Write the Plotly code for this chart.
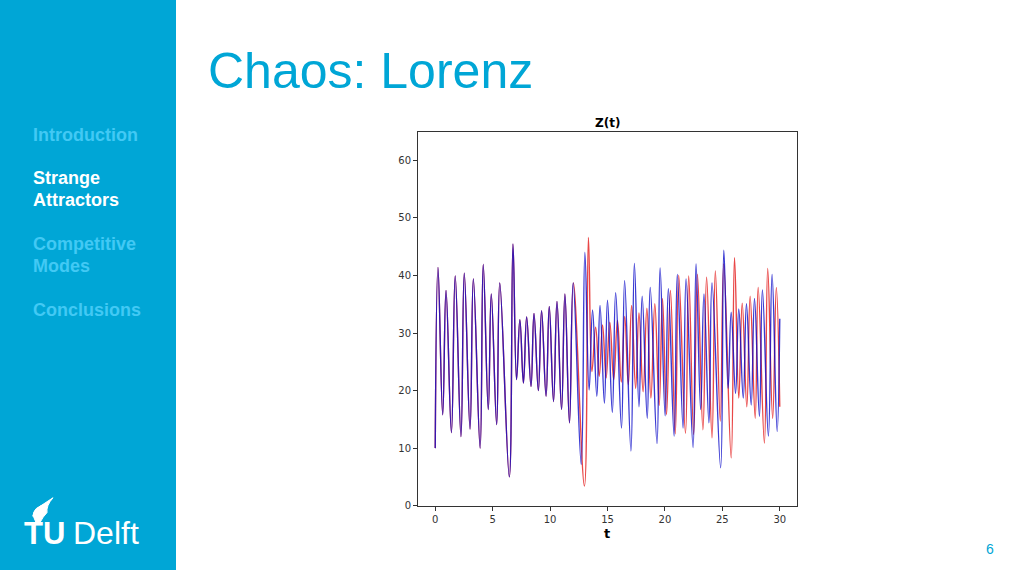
import plotly.graph_objects as go

# ---- data (turning points of z(t)) ----
t_blue = [0.0, 0.24, 0.65, 0.94, 1.41, 1.74, 2.24, 2.53, 3.03, 3.32, 3.91, 4.18, 4.62, 4.88,
          5.35, 5.62, 6.45, 6.77, 7.08, 7.37, 7.68, 7.96, 8.34, 8.60, 8.98, 9.26, 9.65, 9.93,
          10.30, 10.60, 11.00, 11.29, 11.69, 12.01, 12.71, 13.03, 13.40, 13.70, 14.07, 14.35,
          14.73, 15.00, 15.42, 15.71, 16.22, 16.49, 17.04, 17.34, 17.74, 18.02, 18.46, 18.72,
          19.31, 19.58, 20.02, 20.30, 20.80, 21.08, 21.58, 21.84, 22.45, 22.71, 23.11, 23.40,
          23.83, 24.10, 24.85, 25.13, 25.50, 25.77, 26.15, 26.43, 26.82, 27.10, 27.51, 27.80,
          28.23, 28.49, 29.01, 29.33, 29.77, 30.0]
z_blue = [10.0, 41.4, 15.8, 37.4, 12.7, 39.9, 12.0, 40.4, 13.3, 39.4, 10.0, 41.9, 16.7, 36.8,
          14.1, 38.7, 5.0, 45.5, 21.9, 32.3, 21.3, 32.8, 20.7, 33.4, 20.0, 33.9, 19.0, 34.6,
          18.1, 35.5, 16.7, 36.8, 14.4, 38.7, 7.2, 44.0, 20.1, 34.0, 19.0, 34.8,
          17.8, 35.7, 16.2, 37.0, 13.5, 39.1, 9.5, 42.1, 17.2, 36.4, 15.2, 37.9,
          10.8, 41.3, 15.6, 37.7, 12.1, 40.2, 13.5, 39.4, 10.1, 42.0, 16.7, 36.8,
          14.4, 38.7, 6.6, 44.4, 20.4, 33.6, 19.5, 34.2, 18.7, 35.1, 17.5, 36.0,
          15.5, 37.5, 12.1, 40.2, 12.9, 32.5]

t_red = [0.0, 0.24, 0.65, 0.94, 1.41, 1.74, 2.24, 2.53, 3.03, 3.32, 3.91, 4.18, 4.62, 4.88,
         5.35, 5.62, 6.45, 6.77, 7.08, 7.37, 7.68, 7.96, 8.34, 8.60, 8.98, 9.26, 9.65, 9.93,
         10.30, 10.60, 11.00, 11.29, 11.69, 12.03, 12.99, 13.34, 13.64, 13.97, 14.28, 14.57,
         14.88, 15.20, 15.54, 15.87, 16.20, 16.50, 16.81, 17.10, 17.45, 17.74, 18.10, 18.43,
         18.78, 19.12, 19.50, 19.79, 20.14, 20.48, 20.90, 21.20, 21.79, 22.07, 22.50, 22.83,
         23.31, 23.63, 24.10, 24.39, 24.82, 25.12, 25.77, 26.06, 26.43, 26.73, 27.13, 27.42,
         27.86, 28.12, 28.66, 28.95, 29.38, 29.70, 30.0]
z_red = [10.0, 41.4, 15.8, 37.4, 12.7, 39.9, 12.0, 40.4, 13.3, 39.4, 10.0, 41.9, 16.7, 36.8,
         14.1, 38.7, 5.0, 45.5, 21.9, 32.3, 21.3, 32.8, 20.7, 33.4, 20.0, 33.9, 19.0, 34.6,
         18.1, 35.5, 16.7, 36.8, 14.4, 38.7, 3.4, 46.6, 23.3, 31.0, 22.5, 31.4,
         22.2, 31.9, 21.9, 32.2, 21.5, 32.9, 21.0, 34.8, 20.4, 33.5, 19.8, 34.3,
         18.7, 35.1, 17.4, 36.0, 15.8, 37.4, 12.5, 40.0, 12.6, 39.9, 12.4, 40.2,
         13.2, 39.7, 11.8, 40.8, 14.7, 42.0, 8.3, 43.1, 18.7, 35.2, 17.2, 36.4,
         15.2, 37.9, 10.9, 41.2, 15.2, 37.9, 17.2]

x_ticks = [0, 5, 10, 15, 20, 25, 30]
y_ticks = [0, 10, 20, 30, 40, 50, 60]

W, H = 1024, 576
TUD = "#00A6D6"


def px(x):
    return x / W


def py(y):
    return 1 - y / H


fig = go.Figure()
fig.add_trace(go.Scatter(x=t_red, y=z_red, mode="lines",
                         line=dict(color="rgba(225,0,0,0.72)", width=1.4, shape="spline", smoothing=1.2),
                         showlegend=False, hoverinfo="skip"))
fig.add_trace(go.Scatter(x=t_blue, y=z_blue, mode="lines",
                         line=dict(color="rgba(10,10,200,0.8)", width=1.4, shape="spline", smoothing=1.2),
                         showlegend=False, hoverinfo="skip"))

axis_font = dict(family="DejaVu Sans", size=10, color="#333333")
fig.update_xaxes(domain=[px(418), px(797)], range=[-1.5, 31.5], tickvals=x_ticks,
                 ticks="outside", ticklen=4, tickcolor="#333333", showline=True, mirror=True,
                 linecolor="#333333", linewidth=1, showgrid=False, zeroline=False, tickfont=axis_font)
fig.update_yaxes(domain=[py(511), py(133)], range=[0, 65], tickvals=y_ticks,
                 ticks="outside", ticklen=4, tickcolor="#333333", showline=True, mirror=True,
                 linecolor="#333333", linewidth=1, showgrid=False, zeroline=False, tickfont=axis_font)

shapes = [
    dict(type="rect", xref="paper", yref="paper", x0=0, x1=px(176), y0=0, y1=1,
         fillcolor=TUD, line=dict(width=0), layer="below"),
]
# flame of the logo
flame = "M {} {} Q {} {} {} {} Q {} {} {} {} Q {} {} {} {} Q {} {} {} {} Z".format(
    px(36), py(528), px(29), py(516), px(41), py(511), px(47), py(507), px(53), py(503),
    px(46), py(511), px(47), py(518), px(43), py(522), px(40), py(528))
shapes.append(dict(type="path", xref="paper", yref="paper", path=flame,
                   fillcolor="white", line=dict(color="white", width=1)))
shapes.append(dict(type="path", xref="paper", yref="paper",
                   path="M {} {} Q {} {} {} {}".format(px(33), py(522), px(36), py(512), px(48), py(509)),
                   line=dict(color="white", width=2)))

ann = []


def text(x, y, s, size, color, family="Liberation Sans", xanchor="left", yanchor="middle", bold=False):
    ann.append(dict(x=px(x), y=py(y), xref="paper", yref="paper", text=("<b>%s</b>" % s) if bold else s,
                    showarrow=False, xanchor=xanchor, yanchor=yanchor,
                    font=dict(family=family, size=size, color=color)))


text(206, 72, "Chaos: Lorenz", 50, TUD)
inactive = "#42C9F4"
text(31, 136, "Introduction", 18, inactive, bold=True)
text(31, 180, "Strange", 18, "white", bold=True)
text(31, 202, "Attractors", 18, "white", bold=True)
text(31, 247, "Competitive", 18, inactive, bold=True)
text(31, 269, "Modes", 18, inactive, bold=True)
text(31, 313, "Conclusions", 18, inactive, bold=True)
text(22, 539, "TU", 31, "white", bold=True)
text(71, 539, "Delft", 32, "white")
text(990, 555, "6", 14, TUD, xanchor="center")
text(607, 124, "Z(t)", 12, "black", family="DejaVu Sans", xanchor="center", bold=True)
text(607, 539, "t", 13, "black", family="DejaVu Sans", xanchor="center", bold=True)

fig.update_layout(width=W, height=H, autosize=False, margin=dict(l=0, r=0, t=0, b=0),
                  paper_bgcolor="white", plot_bgcolor="white", shapes=shapes, annotations=ann,
                  showlegend=False)
page_fix = (
    "var s=document.createElement('style');"
    "s.textContent='html,body{margin:0!important;padding:0!important;width:1024px;height:576px;"
    "overflow:hidden!important;} body>div{position:absolute;top:0;left:0;}';"
    "document.head.appendChild(s);"
)
fig.write_html("out.html", config={"displayModeBar": False}, post_script=page_fix)
